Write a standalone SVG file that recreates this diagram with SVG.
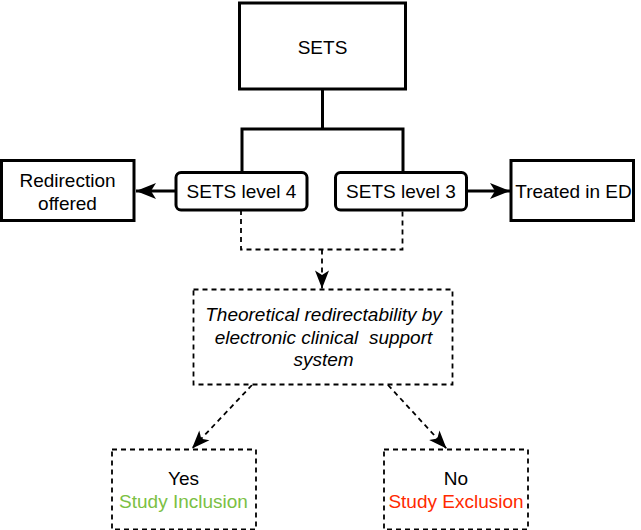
<svg xmlns="http://www.w3.org/2000/svg" width="641" height="530" viewBox="0 0 641 530">
<style>
  text { font-family: "Liberation Sans", Arial, Helvetica, sans-serif; font-size: 19px; fill: #000; text-anchor: middle; }
  .thick { fill: #fff; stroke: #000; stroke-width: 3; }
  .dbox { fill: #fff; stroke: #000; stroke-width: 1.8; stroke-dasharray: 5 4; }
  .solid { fill: none; stroke: #000; stroke-width: 3; }
  .dash { fill: none; stroke: #000; stroke-width: 1.8; stroke-dasharray: 5 4; }
  .it { font-style: italic; }
  .green { fill: #7BC043; }
  .red { fill: #FF2A00; }
</style>
<defs>
  <marker id="big" markerUnits="userSpaceOnUse" markerWidth="22" markerHeight="18" refX="21" refY="9" orient="auto" viewBox="0 0 22 18">
    <path d="M21,9 L1,1 L6,9 L1,17 Z" fill="#000"/>
  </marker>
  <marker id="small" markerUnits="userSpaceOnUse" markerWidth="20" markerHeight="16" refX="19" refY="8" orient="auto" viewBox="0 0 20 16">
    <path d="M19,8 L1,1 L5.5,8 L1,15 Z" fill="#000"/>
  </marker>
</defs>
<g id="connectors">
  <path class="solid" d="M322.5,89 V129 M242,171 V129 H403 V171"/>
  <path class="solid" d="M176,191 H136" marker-end="url(#big)"/>
  <path class="solid" d="M467,191 H510" marker-end="url(#big)"/>
  <path class="dash" d="M241,210 V249.5 H402.5 V210"/>
  <path class="dash" d="M322,249.5 V288.5" marker-end="url(#small)"/>
  <path class="dash" d="M252,385 L192,448.5" marker-end="url(#small)"/>
  <path class="dash" d="M388,385 L446.5,448.5" marker-end="url(#small)"/>
</g>
<g id="sets">
  <rect class="thick" x="239.5" y="3" width="166" height="86"/>
  <text x="322.5" y="54">SETS</text>
</g>
<g id="level4">
  <rect class="thick" x="176" y="172.5" width="131" height="37.5" rx="5"/>
  <text x="241.5" y="198">SETS level 4</text>
</g>
<g id="level3">
  <rect class="thick" x="335.5" y="172.5" width="131" height="37.5" rx="5"/>
  <text x="401" y="198">SETS level 3</text>
</g>
<g id="redirection">
  <rect class="thick" x="1.5" y="160.5" width="132.5" height="60"/>
  <text x="67.5" y="186.5">Redirection</text>
  <text x="67.5" y="209.5">offered</text>
</g>
<g id="treated">
  <rect class="thick" x="511" y="160.5" width="122.5" height="60"/>
  <text x="573.5" y="198">Treated in ED</text>
</g>
<g id="theoretical">
  <rect class="dbox" x="193.5" y="289.5" width="259" height="95"/>
  <text class="it" x="323.5" y="321">Theoretical redirectability by</text>
  <text class="it" x="323.5" y="344" xml:space="preserve">electronic clinical  support</text>
  <text class="it" x="323.5" y="366">system</text>
</g>
<g id="yes">
  <rect class="dbox" x="112" y="449.5" width="144" height="80"/>
  <text x="183.5" y="485">Yes</text>
  <text class="green" x="183.5" y="508">Study Inclusion</text>
</g>
<g id="no">
  <rect class="dbox" x="384" y="449.5" width="144" height="80"/>
  <text x="456" y="485">No</text>
  <text class="red" x="456" y="508">Study Exclusion</text>
</g>
</svg>
